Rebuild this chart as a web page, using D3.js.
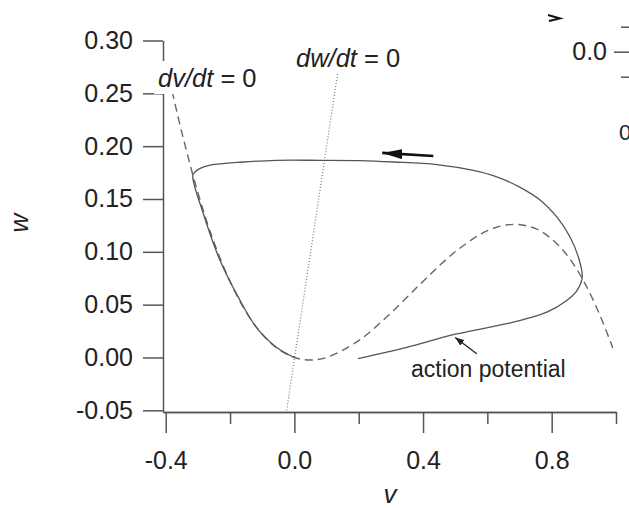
<!DOCTYPE html>
<html lang="en">
<head>
<meta charset="utf-8">
<script src="https://d3js.org/d3.v7.min.js"></script>
<style>
  body { margin: 0; background: #fff; }
  svg { display: block; font-family: "Liberation Sans", Arial, sans-serif; }
  .axis path, .axis line { stroke: #555; stroke-width: 1.5; }
  .axis text { font-size: 25px; fill: #222; }
</style>
</head>
<body>
<svg width="629" height="508"></svg>
<script>
// v-axis and w-axis ticks
var vMajor = [-0.4, 0.0, 0.4, 0.8];
var vMinor = [-0.2, 0.2, 0.6, 1.0];
var wTicks = [-0.05, 0.00, 0.05, 0.10, 0.15, 0.20, 0.25, 0.30];

// dv/dt = 0 nullcline (dashed)
var nullV_v = [-0.38, -0.35, -0.30, -0.25, -0.20, -0.15, -0.10, -0.05, 0.00, 0.05, 0.10, 0.20, 0.30, 0.40, 0.50, 0.60, 0.68, 0.75, 0.80, 0.85, 0.90, 0.95, 0.99];
var nullV_w = [0.252, 0.213, 0.156, 0.109, 0.072, 0.043, 0.022, 0.008, 0.000, -0.0024, 0.000, 0.016, 0.042, 0.072, 0.100, 0.120, 0.126, 0.122, 0.112, 0.096, 0.072, 0.040, 0.009];

// dw/dt = 0 nullcline (dotted)
var nullW_v = [-0.024, 0.149];
var nullW_w = [-0.050, 0.298];

// action potential trajectory (solid)
var traj_v = [0.198, 0.35, 0.50, 0.66, 0.785, 0.847, 0.878, 0.895, 0.883, 0.857, 0.816, 0.764, 0.702, 0.629, 0.556, 0.443, 0.308, 0.204, 0.08, -0.055, -0.159, -0.262, -0.293, -0.309, -0.316, -0.283, -0.231, -0.169, -0.117, -0.055, 0.0];
var traj_w = [-0.001, 0.0095, 0.022, 0.032, 0.043, 0.054, 0.063, 0.076, 0.095, 0.114, 0.133, 0.149, 0.161, 0.171, 0.177, 0.1825, 0.185, 0.1863, 0.1866, 0.1866, 0.185, 0.182, 0.179, 0.1755, 0.172, 0.136, 0.0917, 0.054, 0.028, 0.0095, 0.0];

// arrows: [v0, w0, v1, w1]
var bigArrow = [0.432, 0.1907, 0.273, 0.1936];
var smallArrow = [0.567, 0.0035, 0.500, 0.019];

var svg = d3.select("svg");

var x = d3.scaleLinear().domain([-0.4085, 1.0]).range([163, 616]);
var y = d3.scaleLinear().domain([-0.0516, 0.30]).range([412, 40.5]);

function zip(a, b) { return a.map(function(d, i) { return [d, b[i]]; }); }

var line = d3.line()
    .x(function(d) { return x(d[0]); })
    .y(function(d) { return y(d[1]); })
    .curve(d3.curveCatmullRom.alpha(0.5));

// axes
svg.append("g").attr("class", "axis")
    .attr("transform", "translate(0,412)")
    .call(d3.axisBottom(x).tickValues(vMinor).tickSize(12).tickSizeOuter(0).tickFormat(""));
svg.append("g").attr("class", "axis")
    .attr("transform", "translate(0,412)")
    .call(d3.axisBottom(x).tickValues(vMajor).tickSize(21).tickSizeOuter(0).tickPadding(18)
        .tickFormat(function(d) { return d.toFixed(1); }));
svg.append("g").attr("class", "axis")
    .attr("transform", "translate(163,0)")
    .call(d3.axisLeft(y).tickValues(wTicks).tickSize(20).tickSizeOuter(0).tickPadding(10)
        .tickFormat(function(d) { return d.toFixed(2); }));

// curves
svg.append("path").datum(zip(nullW_v, nullW_w))
    .attr("d", line.curve(d3.curveLinear))
    .attr("fill", "none").attr("stroke", "#777").attr("stroke-width", 1.2)
    .attr("stroke-dasharray", "1,2");
line.curve(d3.curveCatmullRom.alpha(0.5));

svg.append("path").datum(zip(nullV_v, nullV_w))
    .attr("d", line)
    .attr("fill", "none").attr("stroke", "#666").attr("stroke-width", 1.4)
    .attr("stroke-dasharray", "8,5");

svg.append("path").datum(zip(traj_v, traj_w))
    .attr("d", line)
    .attr("fill", "none").attr("stroke", "#555").attr("stroke-width", 1.3);

// arrows
var defs = svg.append("defs");
defs.append("marker").attr("id", "bighead")
    .attr("markerUnits", "userSpaceOnUse")
    .attr("viewBox", "0 -5 20 10").attr("refX", 20).attr("refY", 0)
    .attr("markerWidth", 20).attr("markerHeight", 10).attr("orient", "auto")
  .append("path").attr("d", "M0,-5L20,0L0,5Z").attr("fill", "#111");
defs.append("marker").attr("id", "smallhead")
    .attr("markerUnits", "userSpaceOnUse")
    .attr("viewBox", "0 -3.5 9 7").attr("refX", 9).attr("refY", 0)
    .attr("markerWidth", 9).attr("markerHeight", 7).attr("orient", "auto")
  .append("path").attr("d", "M0,-3.5L9,0L0,3.5Z").attr("fill", "#222");

svg.append("line")
    .attr("x1", x(bigArrow[0])).attr("y1", y(bigArrow[1]))
    .attr("x2", x(bigArrow[2])).attr("y2", y(bigArrow[3]))
    .attr("stroke", "#111").attr("stroke-width", 2.6)
    .attr("marker-end", "url(#bighead)");
svg.append("line")
    .attr("x1", x(smallArrow[0])).attr("y1", y(smallArrow[1]))
    .attr("x2", x(smallArrow[2])).attr("y2", y(smallArrow[3]))
    .attr("stroke", "#222").attr("stroke-width", 1.3)
    .attr("marker-end", "url(#smallhead)");

// nullcline labels with white background
function label(tx, ty, italicPart, rest, size) {
    var g = svg.append("g");
    var r = g.append("rect").attr("fill", "#fff");
    var t = g.append("text").attr("x", tx).attr("y", ty)
        .attr("font-size", size).attr("fill", "#222");
    t.append("tspan").attr("font-style", "italic").text(italicPart);
    t.append("tspan").text(rest);
    var bb = t.node().getBBox();
    r.attr("x", bb.x - 4).attr("y", ty - 26).attr("width", bb.width + 8).attr("height", 33);
}
label(158, 87, "dv/dt", " = 0", 25.5);
label(296, 67, "dw/dt", " = 0", 25.5);

svg.append("text").attr("x", 411).attr("y", 377)
    .attr("font-size", 23).attr("fill", "#222").text("action potential");

// axis titles
svg.append("text").attr("x", 390).attr("y", 503)
    .attr("text-anchor", "middle").attr("font-size", 26).attr("font-style", "italic")
    .attr("fill", "#222").text("v");
svg.append("text").attr("transform", "translate(28,223) rotate(-90)")
    .attr("text-anchor", "middle").attr("font-size", 26).attr("font-style", "italic")
    .attr("fill", "#222").text("w");

// fragment of the neighbouring panel at the right edge
var sideMajor = [0.0];
var sideMinor = [-0.25, 0.25];
var yR = d3.scaleLinear().domain([0.25, -0.25]).range([26.7, 76.7]);
var side = svg.append("g").attr("class", "axis").attr("transform", "translate(629,0)");
side.call(d3.axisLeft(yR).tickValues(sideMinor).tickSize(8).tickSizeOuter(0).tickFormat(""));
side.select(".domain").remove();
var side2 = svg.append("g").attr("class", "axis").attr("transform", "translate(629,0)");
side2.call(d3.axisLeft(yR).tickValues(sideMajor).tickSize(15).tickSizeOuter(0).tickPadding(7)
    .tickFormat(function(d) { return d.toFixed(1); }));
side2.select(".domain").remove();
side2.selectAll("text").attr("font-size", 22);
svg.append("text").attr("x", 619).attr("y", 140).attr("font-size", 22).attr("fill", "#222").text("0");
svg.append("path").attr("d", "M548,15 L560,18.5 L549,21")
    .attr("fill", "none").attr("stroke", "#111").attr("stroke-width", 2);
</script>
</body>
</html>
